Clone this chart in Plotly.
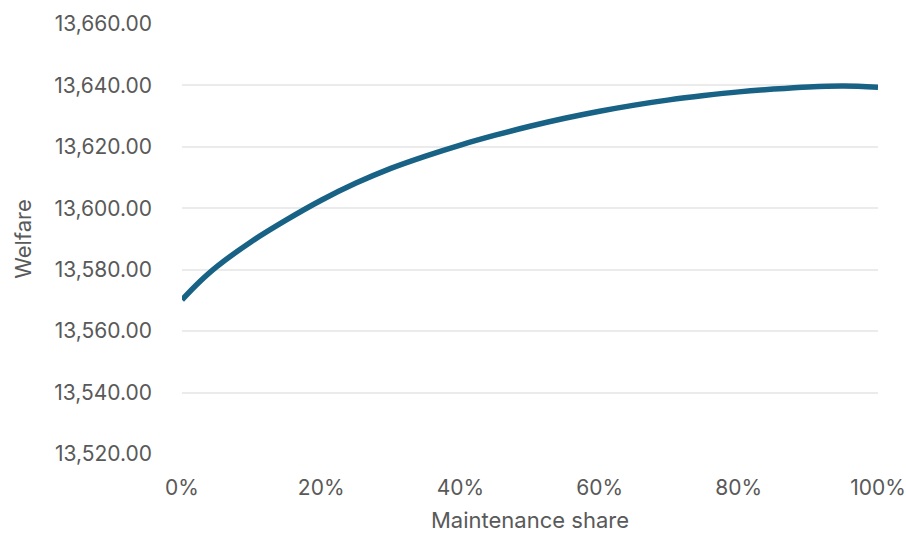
import plotly.graph_objects as go

# Maintenance share (fraction) and resulting welfare
share = [0.00, 0.025, 0.05, 0.10, 0.15, 0.20, 0.25, 0.30, 0.35, 0.40, 0.45,
         0.50, 0.55, 0.60, 0.65, 0.70, 0.75, 0.80, 0.85, 0.90, 0.95, 1.00]
welfare = [13570.2, 13576.0, 13581.0, 13589.2, 13596.2, 13602.6, 13608.2,
           13613.0, 13617.0, 13620.6, 13623.8, 13626.7, 13629.3, 13631.6,
           13633.6, 13635.3, 13636.7, 13637.9, 13638.8, 13639.5, 13639.8,
           13639.4]

y_ticks = [13520, 13540, 13560, 13580, 13600, 13620, 13640, 13660]
x_ticks = [0.0, 0.2, 0.4, 0.6, 0.8, 1.0]

font_family = "Inter, 'Open Sans', sans-serif"
grey = "#595959"

fig = go.Figure(
    go.Scatter(
        x=share,
        y=welfare,
        mode="lines",
        line=dict(color="#176285", width=5.5, shape="spline", smoothing=1.0),
        hoverinfo="skip",
    )
)

fig.update_layout(
    width=906,
    height=533,
    margin=dict(l=182, r=28, t=24, b=79),
    paper_bgcolor="white",
    plot_bgcolor="white",
    showlegend=False,
    font=dict(family=font_family, size=21, color=grey),
)

fig.update_xaxes(
    range=[0, 1],
    tickvals=x_ticks,
    tickformat=".0%",
    showgrid=False,
    zeroline=False,
    showline=False,
    ticks="",
    automargin=False,
    ticklabelstandoff=19,
    tickfont=dict(size=21, color=grey),
    title=dict(text="Maintenance share", font=dict(size=22, color=grey), standoff=15),
)

fig.update_yaxes(
    range=[13520, 13660],
    tickvals=y_ticks,
    tickformat=",.2f",
    showgrid=True,
    gridcolor="#ebebeb",
    gridwidth=1.5,
    zeroline=False,
    showline=False,
    ticks="",
    automargin=False,
    ticklabelstandoff=29,
    tickfont=dict(size=21, color=grey),
    title=dict(text="Welfare", font=dict(size=22, color=grey), standoff=16),
)

fig.write_html("out.html")
